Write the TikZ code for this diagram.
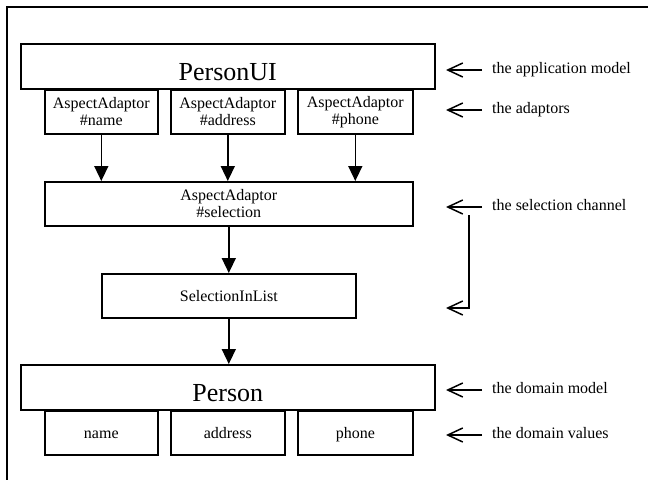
\documentclass[tikz,border=0pt]{standalone}
\usepackage{fontspec}
\setmainfont{Liberation Serif}
\usetikzlibrary{arrows.meta}
\begin{document}
\begin{tikzpicture}[x=1pt,y=-1pt,
  box/.style={draw, line width=1.6pt, inner sep=0pt, anchor=north west, align=center, font=\fontsize{16}{17}\selectfont},
  onebox/.style={box, text height=11pt, text depth=0pt},
  bigbox/.style={box, font=\fontsize{26}{30}\selectfont, text height=29pt, text depth=0pt},
  lbl/.style={anchor=west, inner xsep=10pt, inner ysep=0pt, text height=11pt, text depth=3.5pt, font=\fontsize{16}{18}\selectfont},
  flow/.style={line width=1.5pt, -{Triangle[length=15pt,width=14pt]}},
  pointer/.style={line width=1.5pt, -{Straight Barb[length=15pt,width=14pt]}},
]
\useasboundingbox (0,0) rectangle (648,480);
% frame
\draw[line width=1.5pt] (648,7) -- (7,7) -- (7,480);

% application model
\node[bigbox, minimum width=414pt, minimum height=45pt] (personui) at (20,43) {PersonUI};
\node[box, minimum width=113pt, minimum height=44pt] (ad1) at (44,89) {AspectAdaptor\\\#name};
\node[box, minimum width=114pt, minimum height=44pt] (ad2) at (170,89) {AspectAdaptor\\\#address};
\node[box, minimum width=115pt, minimum height=44pt] (ad3) at (297,89) {AspectAdaptor\\\#phone};

% selection channel
\node[box, minimum width=368pt, minimum height=44pt] (sel) at (44,181) {AspectAdaptor\\\#selection};
\node[onebox, minimum width=254pt, minimum height=44pt] (sil) at (101,273) {SelectionInList};

% domain model
\node[bigbox, minimum width=414pt, minimum height=45pt] (person) at (20,364) {Person};
\node[onebox, minimum width=113pt, minimum height=44pt] (v1) at (44,410) {name};
\node[onebox, minimum width=114pt, minimum height=44pt] (v2) at (170,410) {address};
\node[onebox, minimum width=115pt, minimum height=44pt] (v3) at (297,410) {phone};

% flows
\draw[flow] (ad1.south) -- (ad1.south |- sel.north);
\draw[flow] (ad2.south) -- (ad2.south |- sel.north);
\draw[flow] (ad3.south) -- (ad3.south |- sel.north);
\draw[flow] (sel.south) -- (sel.south |- sil.north);
\draw[flow] (sil.south) -- (sil.south |- person.north);

% labels
\node[lbl] (l1) at (482,70) {the application model};
\node[lbl] (l2) at (482,110) {the adaptors};
\node[lbl] (l3) at (482,207) {the selection channel};
\node[lbl] (l4) at (482,390) {the domain model};
\node[lbl] (l5) at (482,435) {the domain values};

\coordinate (t1) at (446,70);
\coordinate (t2) at (446,110);
\coordinate (t3) at (446,207);
\coordinate (t4) at (446,390);
\coordinate (t5) at (446,435);
\coordinate (b1) at (469,215);
\coordinate (b2) at (469,308);
\coordinate (t6) at (446,308);

\draw[pointer] (l1.west) -- (t1);
\draw[pointer] (l2.west) -- (t2);
\draw[pointer] (l3.west) -- (t3);
\draw[pointer] (l4.west) -- (t4);
\draw[pointer] (l5.west) -- (t5);
\draw[pointer] (b1) -- (b2) -- (t6);
\end{tikzpicture}
\end{document}
